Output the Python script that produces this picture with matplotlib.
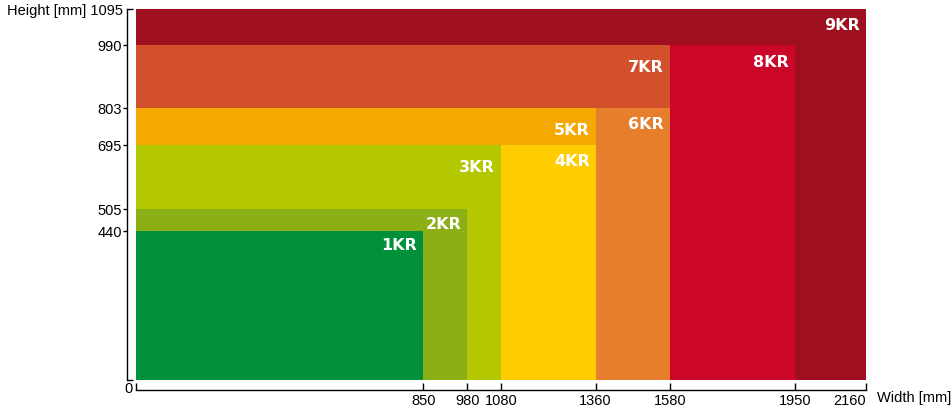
import matplotlib
matplotlib.use('Agg')
import matplotlib.pyplot as plt
from matplotlib.ticker import FixedLocator, FixedFormatter

# machine models, footprint width x height in mm
models = ['1KR', '2KR', '3KR', '4KR', '5KR', '6KR', '7KR', '8KR', '9KR']
widths = [850, 980, 1080, 1360, 1360, 1580, 1580, 1950, 2160]
heights = [440, 505, 695, 695, 803, 803, 990, 990, 1095]
colors = ['#00913a', '#8caf15', '#b3c800', '#ffcc00', '#f5a800',
          '#e67e2c', '#d2512c', '#cc0628', '#9e0f20']

x_ticks = [0, 850, 980, 1080, 1360, 1580, 1950, 2160]
x_labels = ['', '850', '980', '1080', '1360', '1580', '1950', '2160']
y_ticks = [440, 505, 695, 803, 990]
y_labels = ['440', '505', '695', '803', '990']

# how far each model label sits below its rectangle top (pixels)
label_drop = [6, 7, 14, 8, 14, 8, 14, 9, 8]

plt.rcParams['font.family'] = ['Liberation Sans', 'DejaVu Sans']

fig = plt.figure(figsize=(9.51, 4.10), dpi=100)
ax = fig.add_axes([136 / 951, 1 - 381 / 410, 730 / 951, 371 / 410])

# biggest rectangle first so the smaller ones sit on top
for i in reversed(range(len(models))):
    ax.bar(0, heights[i], width=widths[i], align='edge', color=colors[i],
           linewidth=0)
    ax.annotate(models[i], xy=(widths[i], heights[i]),
                xytext=(-6, -label_drop[i]), textcoords='offset pixels',
                ha='right', va='top', color='white', fontsize=11.5,
                fontweight='bold', family='DejaVu Sans')

ax.set_xlim(0, 2160)
ax.set_ylim(0, 1095)
ax.set_facecolor('none')

for s in ['top', 'right']:
    ax.spines[s].set_visible(False)
ax.spines['left'].set_position(('outward', 6.5))
ax.spines['bottom'].set_position(('outward', 7.2))
ax.spines['left'].set_bounds(0, 1095)
ax.spines['bottom'].set_bounds(0, 2160)
ax.spines['left'].set_linewidth(1)
ax.spines['bottom'].set_linewidth(1)

ax.xaxis.set_major_locator(FixedLocator(x_ticks))
ax.xaxis.set_major_formatter(FixedFormatter(x_labels))
ax.tick_params(axis='x', direction='in', length=5, width=1, pad=2,
               labelsize=10.5)
# last width label sits to the left of its tick
ax.xaxis.get_major_ticks()[-1].label1.set_horizontalalignment('right')

ax.yaxis.set_major_locator(FixedLocator(y_ticks))
ax.yaxis.set_major_formatter(FixedFormatter(y_labels))
ax.yaxis.set_minor_locator(FixedLocator([0, 1095]))
ax.yaxis.set_minor_formatter(FixedFormatter(['', 'Height [mm] 1095']))
ax.tick_params(axis='y', which='major', direction='out', length=3,
               width=1, pad=0.5, labelsize=10.5)
ax.tick_params(axis='y', which='minor', direction='in', length=4,
               width=1, pad=3, labelsize=10.5)

ax.annotate('0', xy=(0, 0), xytext=(-3, -8), textcoords='offset pixels',
            ha='right', va='center', fontsize=10.5, annotation_clip=False)
ax.annotate('Width [mm]', xy=(2160, 0), xytext=(11, -17),
            textcoords='offset pixels', ha='left', va='center',
            fontsize=10.5, annotation_clip=False)

fig.savefig('out.png', dpi=100)
